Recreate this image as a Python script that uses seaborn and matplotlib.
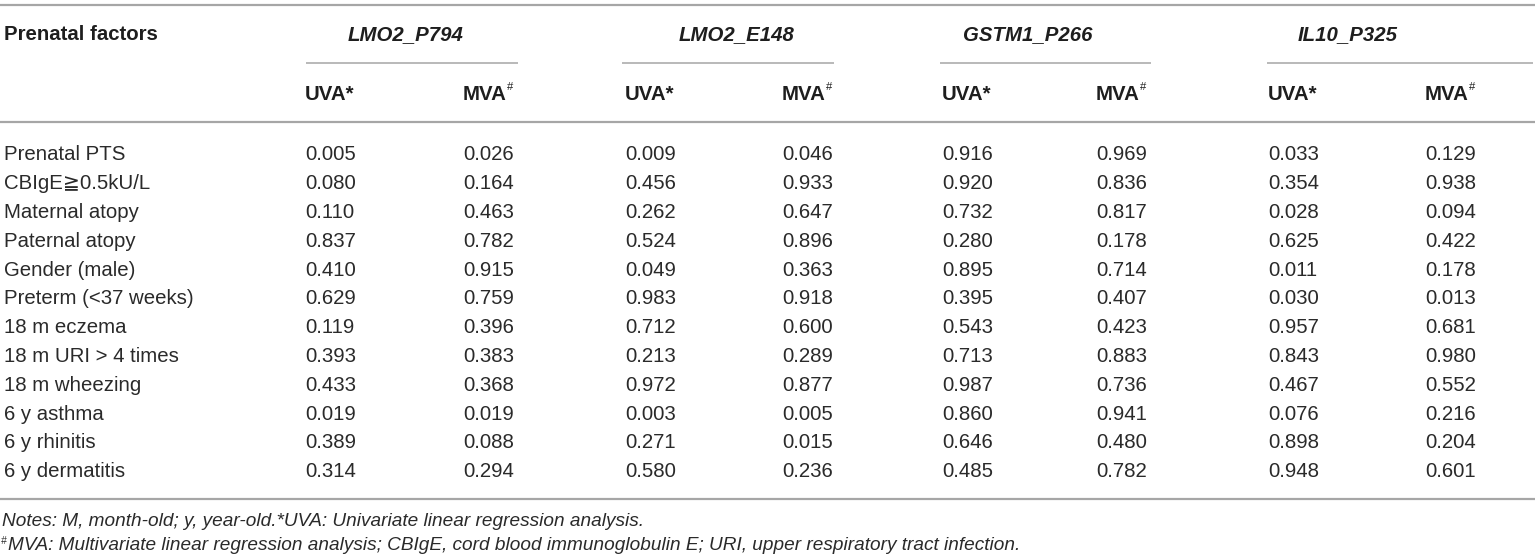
import matplotlib
matplotlib.use("Agg")
import matplotlib.pyplot as plt
import seaborn as sns

# table content
factors = ["Prenatal PTS", "CBIgE\u22670.5kU/L", "Maternal atopy", "Paternal atopy",
           "Gender (male)", "Preterm (<37 weeks)", "18 m eczema", "18 m URI > 4 times",
           "18 m wheezing", "6 y asthma", "6 y rhinitis", "6 y dermatitis"]
genes = ["LMO2_P794", "LMO2_E148", "GSTM1_P266", "IL10_P325"]

lmo2_p794_uva = ["0.005", "0.080", "0.110", "0.837", "0.410", "0.629", "0.119", "0.393", "0.433", "0.019", "0.389", "0.314"]
lmo2_p794_mva = ["0.026", "0.164", "0.463", "0.782", "0.915", "0.759", "0.396", "0.383", "0.368", "0.019", "0.088", "0.294"]
lmo2_e148_uva = ["0.009", "0.456", "0.262", "0.524", "0.049", "0.983", "0.712", "0.213", "0.972", "0.003", "0.271", "0.580"]
lmo2_e148_mva = ["0.046", "0.933", "0.647", "0.896", "0.363", "0.918", "0.600", "0.289", "0.877", "0.005", "0.015", "0.236"]
gstm1_p266_uva = ["0.916", "0.920", "0.732", "0.280", "0.895", "0.395", "0.543", "0.713", "0.987", "0.860", "0.646", "0.485"]
gstm1_p266_mva = ["0.969", "0.836", "0.817", "0.178", "0.714", "0.407", "0.423", "0.883", "0.736", "0.941", "0.480", "0.782"]
il10_p325_uva = ["0.033", "0.354", "0.028", "0.625", "0.011", "0.030", "0.957", "0.843", "0.467", "0.076", "0.898", "0.948"]
il10_p325_mva = ["0.129", "0.938", "0.094", "0.422", "0.178", "0.013", "0.681", "0.980", "0.552", "0.216", "0.204", "0.601"]

note1 = "Notes: M, month-old; y, year-old.*UVA: Univariate linear regression analysis."
note2 = "MVA: Multivariate linear regression analysis; CBIgE, cord blood immunoglobulin E; URI, upper respiratory tract infection."

columns = [lmo2_p794_uva, lmo2_p794_mva, lmo2_e148_uva, lmo2_e148_mva,
           gstm1_p266_uva, gstm1_p266_mva, il10_p325_uva, il10_p325_mva]

sns.set_theme(style="white")
plt.rcParams['font.family'] = ['Liberation Sans', 'DejaVu Sans']

TXT = "#2a2a2a"
LINE = "#a6a6a6"
FS = 14.7

fig = plt.figure(figsize=(15.35, 5.6), dpi=100)
ax = fig.add_axes([0, 0, 1, 1])
ax.set_xlim(0, 1535)
ax.set_ylim(560, 0)
ax.axis("off")

col_x = [305, 463, 625, 782, 942, 1096, 1268, 1425]
gene_cx = [406, 737, 1028, 1348]
gene_lines = [(306, 518), (622, 834), (940, 1151), (1267, 1533)]
row_y0, row_dy = 155, 28.8

# rules
ax.plot([0, 1535], [4.5, 4.5], color=LINE, lw=1.6, solid_capstyle="butt")
ax.plot([0, 1535], [122, 122], color=LINE, lw=1.6, solid_capstyle="butt")
ax.plot([0, 1535], [499, 499], color=LINE, lw=1.6, solid_capstyle="butt")
for x0, x1 in gene_lines:
    ax.plot([x0, x1], [63, 63], color=LINE, lw=1.1, solid_capstyle="butt")

# header
ax.text(4, 35, "Prenatal factors", fontsize=FS, fontweight="bold", color="#1e1e1e", va="center")
for g, cx in zip(genes, gene_cx):
    ax.text(cx, 35, g, fontsize=FS, fontweight="bold", style="italic", color="#1e1e1e",
            va="center", ha="center")

fig.canvas.draw()
renderer = fig.canvas.get_renderer()
inv = ax.transData.inverted()

for i, x in enumerate(col_x):
    if i % 2 == 0:
        ax.text(x, 94, "UVA*", fontsize=FS, fontweight="bold", color="#1e1e1e", va="center")
    else:
        t = ax.text(x, 94, "MVA", fontsize=FS, fontweight="bold", color="#1e1e1e", va="center")
        bb = t.get_window_extent(renderer)
        xr = inv.transform((bb.x1, bb.y1))[0]
        ax.text(xr, 87, "#", fontsize=FS * 0.55, color="#1e1e1e", va="center")

# body
for r, f in enumerate(factors):
    y = row_y0 + r * row_dy
    ax.text(4, y, f, fontsize=FS, color=TXT, va="center")
    for x, col in zip(col_x, columns):
        ax.text(x, y, col[r], fontsize=FS, color=TXT, va="center")

# notes
ax.text(2, 522, note1, fontsize=FS * 0.93, style="italic", color=TXT, va="center")
ax.text(1, 541, "#", fontsize=FS * 0.5, style="italic", color=TXT, va="center")
ax.text(8, 546, note2, fontsize=FS * 0.93, style="italic", color=TXT, va="center")

fig.savefig("out.png", dpi=100, facecolor="white")
